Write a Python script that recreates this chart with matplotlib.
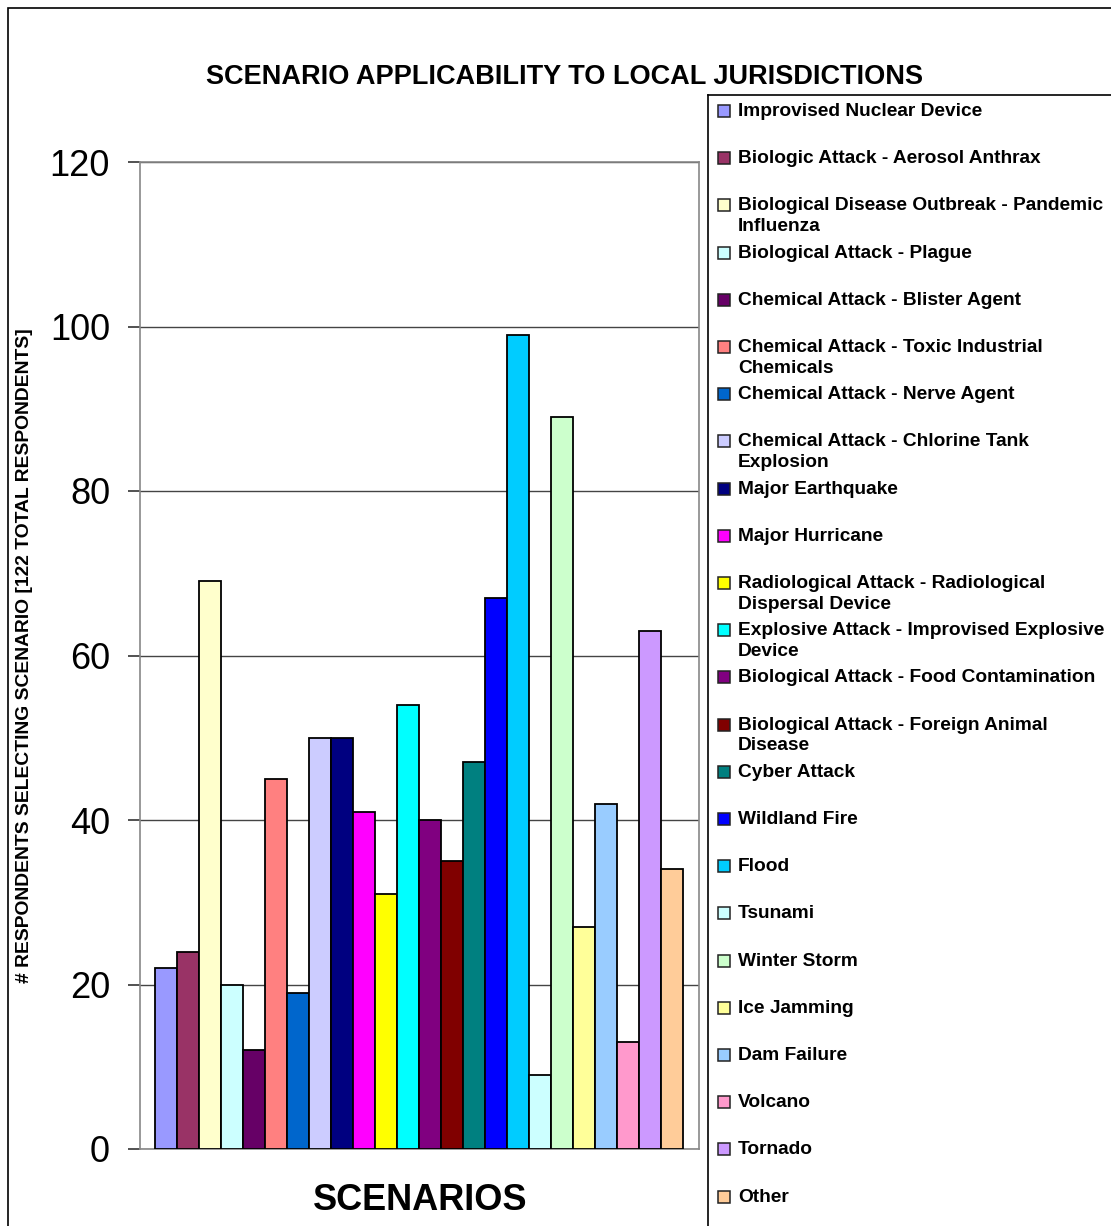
import matplotlib.pyplot as plt
from matplotlib.patches import Rectangle

plt.rcParams['font.family'] = ['Liberation Sans', 'DejaVu Sans']

scenarios = [
    "Improvised Nuclear Device",
    "Biologic Attack - Aerosol Anthrax",
    "Biological Disease Outbreak - Pandemic\nInfluenza",
    "Biological Attack - Plague",
    "Chemical Attack - Blister Agent",
    "Chemical Attack - Toxic Industrial\nChemicals",
    "Chemical Attack - Nerve Agent",
    "Chemical Attack - Chlorine Tank\nExplosion",
    "Major Earthquake",
    "Major Hurricane",
    "Radiological Attack - Radiological\nDispersal Device",
    "Explosive Attack - Improvised Explosive\nDevice",
    "Biological Attack - Food Contamination",
    "Biological Attack - Foreign Animal\nDisease",
    "Cyber Attack",
    "Wildland Fire",
    "Flood",
    "Tsunami",
    "Winter Storm",
    "Ice Jamming",
    "Dam Failure",
    "Volcano",
    "Tornado",
    "Other",
]
respondents = [22, 24, 69, 20, 12, 45, 19, 50, 50, 41, 31, 54,
               40, 35, 47, 67, 99, 9, 89, 27, 42, 13, 63, 34]
colors = ["#9999FF", "#993366", "#FFFFCC", "#CCFFFF", "#660066", "#FF8080",
          "#0066CC", "#CCCCFF", "#000080", "#FF00FF", "#FFFF00", "#00FFFF",
          "#800080", "#800000", "#008080", "#0000FF", "#00CCFF", "#CCFFFF",
          "#CCFFCC", "#FFFF99", "#99CCFF", "#FF99CC", "#CC99FF", "#FFCC99"]

W, H = 1111, 1226
fig = plt.figure(figsize=(W / 100, H / 100), dpi=100)

# outer chart border
fig.patches.append(Rectangle((8 / W, -0.01), 1.1, 1 - 8 / H + 0.01,
                             transform=fig.transFigure, fill=False,
                             edgecolor='black', linewidth=1.2))

ax = fig.add_axes([140 / W, 1 - 1149 / H, 559 / W, 987 / H])
x = list(range(len(respondents)))
ax.bar(x, respondents, width=1.0, color=colors, edgecolor='black',
       linewidth=1.3, zorder=3)
ax.set_xlim(-1.18, 24.23)
ax.set_ylim(0, 120)
ax.set_yticks(range(0, 121, 20))
ax.set_xticks([])
ax.grid(axis='y', color='#444444', linewidth=1.0, zorder=0)
for s in ax.spines.values():
    s.set_color('#888888')
    s.set_linewidth(1.2)
ax.tick_params(axis='y', labelsize=26, length=8.6, width=1.2, color='#333333', pad=13)

ax.set_ylabel("# RESPONDENTS SELECTING SCENARIO [122 TOTAL RESPONDENTS]",
              fontsize=13.9, fontweight='bold')
ax.yaxis.set_label_coords(-0.191, 0.5)

fig.text(564 / W, 1 - 77 / H, "SCENARIO APPLICABILITY TO LOCAL JURISDICTIONS",
         ha='center', va='center', fontsize=19.5, fontweight='bold')
fig.text(420 / W, 1 - 1201 / H, "SCENARIOS", ha='center', va='center',
         fontsize=26, fontweight='bold')

# legend box
lg = fig.add_axes([708 / W, -0.02, 0.4, 1 - 95 / H + 0.02])
lg.set_xlim(0, 1)
lg.set_ylim(1226 - 95 + 0.02 * H, 0)
lg.set_xticks([])
lg.set_yticks([])
for side in ['top', 'left']:
    lg.spines[side].set_linewidth(1.2)
for side in ['right', 'bottom']:
    lg.spines[side].set_visible(False)

px = 1 / (0.4 * W)
for i, (name, c) in enumerate(zip(scenarios, colors)):
    yc = 111 + i * 47.2 - 95
    lg.add_patch(Rectangle((10 * px, yc - 6), 12 * px, 12,
                           facecolor=c, edgecolor='#222222', linewidth=1.1))
    lg.text(30 * px, yc - 8, name, ha='left', va='top', fontsize=13.8,
            fontweight='bold', linespacing=1.3)

fig.savefig("out.png", dpi=100)
